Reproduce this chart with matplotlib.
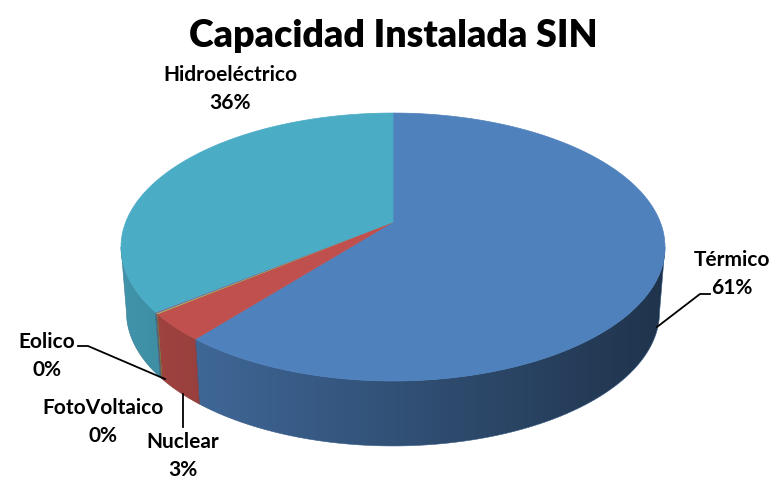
import numpy as np
import matplotlib.pyplot as plt
from matplotlib.patches import Polygon
from matplotlib.colors import to_rgb

# datos del grafico
fuentes = ['Térmico', 'Nuclear', 'FotoVoltaico', 'Eolico', 'Hidroeléctrico']
valores = [60.9, 3.3, 0.1, 0.1, 35.6]
colores = ['#4F81BD', '#C0504D', '#9BBB59', '#8064A2', '#4BACC6']
titulo = 'Capacidad Instalada SIN'

W, H = 781, 481
cx, cy = 393, 223        # vertice del pastel
sx, sy = 267.2, 129.3
k = 0.1866               # perspectiva
prof = 65                # grosor
esc_fondo = 0.98


def borde(theta, abajo=False):
    u = np.sin(theta)
    v = np.cos(theta)
    w = 1 + k * v
    x = sx * u / w
    y = cy - sy * v / w
    if abajo:
        return cx + x * esc_fondo, y + prof
    return cx + x, y


def degradado(color):
    # sombreado horizontal de la cara lateral
    xs = np.linspace(0, W, 400)
    f = np.clip(0.86 - 0.46 * (xs - 121) / 544.0, 0.35, 0.9)
    rgb = np.array(to_rgb(color))
    img = f[None, :, None] * rgb[None, None, :]
    return np.repeat(img, 2, axis=0)


fig = plt.figure(figsize=(W / 100, H / 100), dpi=100)
ax = fig.add_axes([0, 0, 1, 1])
ax.set_xlim(0, W)
ax.set_ylim(H, 0)
ax.axis('off')

total = sum(valores)
fr = np.cumsum([0] + [v / total for v in valores])
ang = fr * 2 * np.pi

# angulos del contorno visible (extremos en x)
tt = np.linspace(0, 2 * np.pi, 3601)
xx, _ = borde(tt)
t_der = tt[np.argmax(xx)]
t_izq = tt[np.argmin(xx)]

# caras laterales
for i in range(len(valores)):
    a0 = max(ang[i], t_der)
    a1 = min(ang[i + 1], t_izq)
    if a1 <= a0:
        continue
    t = np.linspace(a0, a1, 200)
    xa, ya = borde(t)
    xb, yb = borde(t[::-1], True)
    pts = list(zip(xa, ya)) + list(zip(xb, yb))
    poly = Polygon(pts, closed=True, facecolor='none', edgecolor='none')
    ax.add_patch(poly)
    im = ax.imshow(degradado(colores[i]), extent=(0, W, H, 0), aspect='auto',
                   interpolation='bilinear', zorder=1)
    im.set_clip_path(poly)
    c = np.array(to_rgb(colores[i])) * 0.7
    ax.add_patch(Polygon(pts, closed=True, facecolor='none',
                         edgecolor=c, lw=0.4, zorder=1.5))

# caras superiores
for i in range(len(valores)):
    n = max(2, int(np.degrees(ang[i + 1] - ang[i]) * 2))
    t = np.linspace(ang[i], ang[i + 1], n + 1)
    x, y = borde(t)
    pts = [(cx, cy)] + list(zip(x, y))
    ax.add_patch(Polygon(pts, closed=True, facecolor=colores[i],
                         edgecolor=colores[i], lw=0.5, zorder=2))

ax.set_xlim(0, W)
ax.set_ylim(H, 0)

pct = ['%d%%' % round(v / total * 100) for v in valores]

fnt = dict(family='Lato', weight='bold', fontsize=15, color='black',
           ha='center', va='center', linespacing=1.55, zorder=5)
pos = {'Térmico': (732, 274), 'Nuclear': (183, 456), 'FotoVoltaico': (103, 422),
       'Eolico': (47, 356), 'Hidroeléctrico': (230, 89)}
for f, p in zip(fuentes, pct):
    ax.text(pos[f][0], pos[f][1], f + '\n' + p, **fnt)

# lineas guia
ax.plot([657, 700, 710], [328, 295, 295], color='black', lw=1.3, zorder=4)
ax.plot([78, 88, 165], [347, 347, 380], color='black', lw=1.3, zorder=4)
ax.plot([183, 183], [395, 428], color='black', lw=1.3, zorder=4)

ax.text(393, 36, titulo, family='Lato', weight='heavy', fontsize=27,
        ha='center', va='center', color='black', zorder=5)

fig.savefig('out.png', dpi=100)
